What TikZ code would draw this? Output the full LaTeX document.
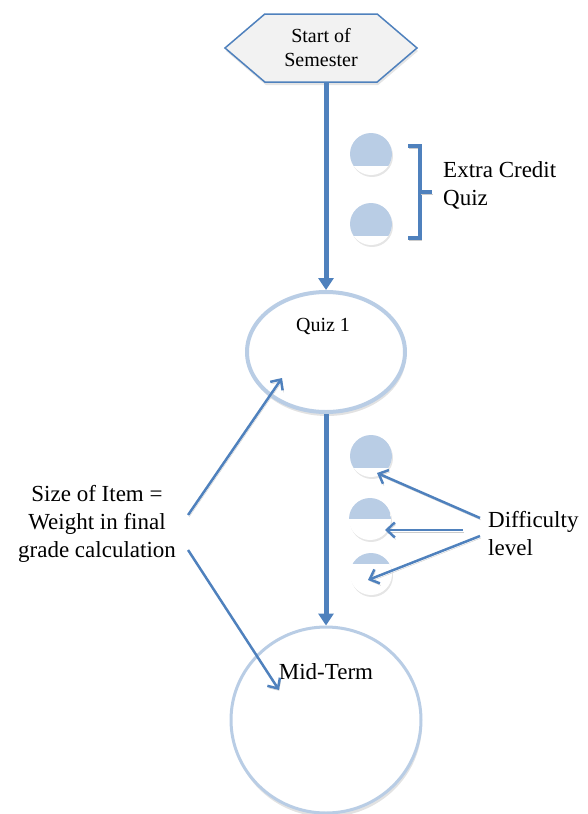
\documentclass[tikz,border=0pt]{standalone}
\usepackage{fontspec}
\setmainfont{Liberation Serif}
\usetikzlibrary{arrows.meta,shapes.geometric,shapes.symbols,shadows}
\definecolor{accentblue}{RGB}{79,129,189}
\definecolor{paleblue}{RGB}{185,205,229}
\definecolor{hexgray}{RGB}{242,242,242}
\tikzset{
  bigtext/.style={font=\fontsize{23}{28}\selectfont, inner sep=0pt},
  smalltext/.style={font=\fontsize{20}{24}\selectfont, inner sep=0pt},
  startbox/.style={signal, signal from=nowhere, signal to=east and west, signal pointer angle=81,
    minimum width=192pt, minimum height=68pt, inner sep=0pt, fill=hexgray, draw=accentblue,
    line width=1.5pt, drop shadow={shadow xshift=1pt, shadow yshift=-3pt, fill=gray!40}},
  itemring/.style={ellipse, inner sep=0pt, fill=white, draw=paleblue,
    drop shadow={shadow xshift=1pt, shadow yshift=-4pt, fill=gray!45}},
  ball/.style={circle, minimum size=42pt, inner sep=0pt, fill=white,
    drop shadow={shadow xshift=1pt, shadow yshift=-2pt, fill=gray!40},
    path picture={\fill[paleblue] (path picture bounding box.north west)
      rectangle ([yshift=#1]path picture bounding box.south east);}},
  mainarrow/.style={draw=accentblue, line width=5pt, -{Triangle[width=15pt,length=12pt]}},
  thinarrow/.style={draw=accentblue, line width=2.5pt, -{Straight Barb[length=8pt,width=15pt]},
    preaction={draw=gray!40, transform canvas={shift={(1pt,-2pt)}}}},
  bracket/.style={draw=accentblue, line width=3.5pt,
    preaction={draw=gray!40, transform canvas={shift={(1pt,-2pt)}}}}
}
\begin{document}
\begin{tikzpicture}[x=1pt, y=-1pt]
  \useasboundingbox (0,0) rectangle (587,814);

  % main items
  \node[startbox, smalltext, align=center] (start) at (321,48) {Start of\\Semester};
  \node[itemring, line width=4pt, minimum width=158pt, minimum height=120pt] (quiz) at (326,352) {};
  \node[smalltext] (quizlbl) at (323,326) {Quiz 1};
  \node[itemring, line width=3pt, minimum width=190pt, minimum height=186pt] (mid) at (326,720) {};
  \node[bigtext] (midlbl) at (326,672) {Mid-Term};

  \draw[mainarrow] (quiz.north |- start.south) -- (quiz.north);
  \draw[mainarrow] (quiz.south) -- (mid.north);

  % extra credit quizzes
  \node[ball=9pt] (xc1) at (371,154) {};
  \node[ball=9pt] (xc2) at (371,224) {};
  \draw[bracket] (408,146) -- (420,146) -- (420,238) -- (408,238);
  \coordinate (brmid) at (420,192);
  \node[bigtext, align=left, anchor=west] (extra) at (443,185) {Extra Credit\\Quiz};
  \draw[bracket, shorten >=11pt] (brmid) -- (brmid -| extra.west);

  % difficulty levels
  \node[ball=9pt] (d1) at (371,456) {};
  \node[ball=21pt] (d2) at (370,519) {};
  \node[ball=31pt] (d3) at (371,574) {};
  \node[bigtext, align=left, anchor=west] (diff) at (488,534) {Difficulty\\level};
  \draw[thinarrow] ([xshift=-8pt,yshift=16pt]diff.west) -- ([xshift=6pt,yshift=-17pt]d1.center);
  \draw[thinarrow] ([xshift=-25pt,yshift=4pt]diff.west) -- ([xshift=15pt,yshift=-11pt]d2.center);
  \draw[thinarrow] ([xshift=-8pt,yshift=-2pt]diff.west) -- ([xshift=-3pt,yshift=-6pt]d3.center);

  % size of item
  \node[bigtext, align=center] (size) at (97,524) {Size of Item =\\Weight in final\\grade calculation};
  \draw[thinarrow] ([xshift=12pt,yshift=9pt]size.east) -- ([xshift=-44pt,yshift=-26pt]quiz.center);
  \draw[thinarrow] ([xshift=12pt,yshift=-26pt]size.east) -- ([xshift=-47pt,yshift=30pt]mid.center);
\end{tikzpicture}
\end{document}
